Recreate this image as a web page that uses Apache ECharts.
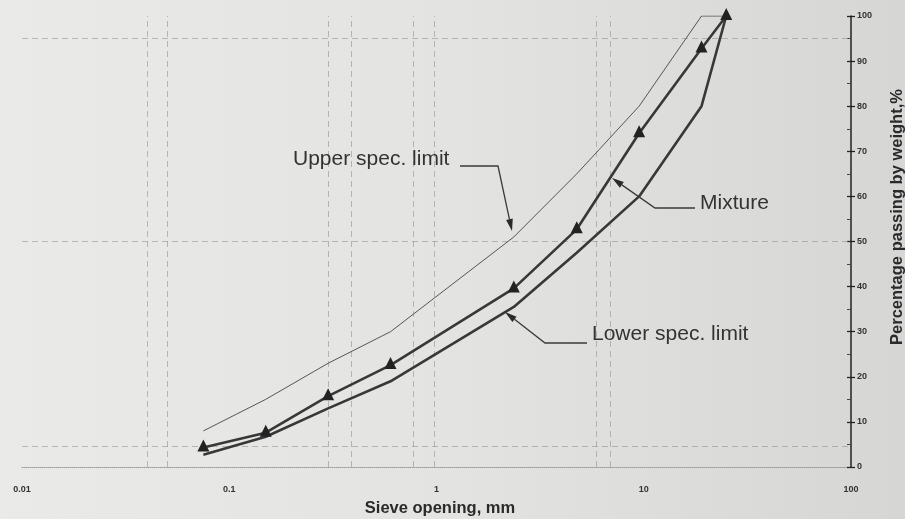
<!DOCTYPE html>
<html><head><meta charset="utf-8">
<script src="https://cdn.jsdelivr.net/npm/echarts@6/dist/echarts.min.js"></script>
<style>html,body{margin:0;padding:0;background:#e2e2e0;}#c{width:905px;height:519px;}</style>
</head><body><div id="c"></div>
<script>
// ---- data ----
const sieveSizes = [0.075, 0.15, 0.3, 0.6, 2.36, 4.75, 9.5, 19, 25];
const upperLimit = [8, 15, 23, 30, 51, 65, 80, 100, 100];
const mixture    = [4.3, 7.6, 15.7, 22.6, 39.6, 52.7, 74, 92.8, 100];
const lowerLimit = [2.7, 6.7, 13, 19, 35.5, 47.5, 60, 80, 100];
const xTickValues = [0.01, 0.1, 1, 10, 100];
const xTickLabels = ['0.01', '0.1', '1', '10', '100'];
const yTickLabels = ['0','10','20','30','40','50','60','70','80','90','100'];
const paperGridX = [0.0388, 0.0484, 0.296, 0.391, 0.77, 0.972, 5.89, 6.87];
const paperGridY = [95, 50, 4.5];

const zip = (xs, ys) => xs.map((x, i) => [x, ys[i]]);

const chart = echarts.init(document.getElementById('c'), null, {renderer: 'canvas'});

function arrowGroup(pts) {
  const n = pts.length;
  const [x1, y1] = pts[n - 2], [x2, y2] = pts[n - 1];
  const dx = x2 - x1, dy = y2 - y1, L = Math.hypot(dx, dy);
  const ux = dx / L, uy = dy / L, hl = 12, hw = 3.4;
  const bx = x2 - ux * hl, by = y2 - uy * hl;
  return [
    {type: 'polyline', shape: {points: pts.slice(0, n - 1).concat([[bx, by]])},
     style: {stroke: '#3a3a3a', lineWidth: 1.3, fill: null}, z: 20},
    {type: 'polygon', shape: {points: [[x2, y2], [bx - uy * hw, by + ux * hw], [bx + uy * hw, by - ux * hw]]},
     style: {fill: '#2a2a2a'}, z: 20}
  ];
}

const annFont = '21px "Liberation Sans", Arial, sans-serif';
const titleFont = 'bold 16.5px "Liberation Sans", Arial, sans-serif';

const option = {
  backgroundColor: new echarts.graphic.LinearGradient(0, 0, 1, 0, [
    {offset: 0, color: '#eaeae8'},
    {offset: 0.5, color: '#e3e3e1'},
    {offset: 1, color: '#d6d6d4'}
  ]),
  animation: false,
  grid: {left: 22, right: 54, top: 16, bottom: 52},
  xAxis: {
    type: 'log', logBase: 10, min: 0.01, max: 100,
    axisLine: {show: true, lineStyle: {color: '#9a9a9a', type: 'dotted', width: 1}},
    axisTick: {show: false},
    splitLine: {show: false},
    axisLabel: {
      margin: 18, color: '#333', fontSize: 9, fontWeight: 'bold',
      fontFamily: '"Liberation Sans", Arial, sans-serif',
      formatter: v => {
        const i = xTickValues.findIndex(t => Math.abs(Math.log10(t) - Math.log10(v)) < 1e-6);
        return i >= 0 ? xTickLabels[i] : '';
      }
    }
  },
  yAxis: [{
    type: 'value', position: 'right', min: 0, max: 100, interval: 10,
    axisLine: {show: true, lineStyle: {color: '#222', width: 1.5}},
    axisTick: {show: true, inside: false, length: 4, lineStyle: {color: '#222', width: 1.3}},
    splitLine: {show: false},
    axisLabel: {
      margin: 6, color: '#333', fontSize: 9, fontWeight: 'bold',
      fontFamily: '"Liberation Sans", Arial, sans-serif',
      formatter: v => yTickLabels[Math.round(v / 10)]
    }
  }, {
    type: 'value', position: 'right', min: 0, max: 100, interval: 10,
    axisLine: {show: false},
    axisTick: {show: true, inside: true, length: 4, lineStyle: {color: '#222', width: 1.3}},
    minorTick: {show: true, splitNumber: 2, length: 4, lineStyle: {color: '#444', width: 1}},
    axisLabel: {show: false},
    splitLine: {show: false}
  }],
  series: [
    {
      name: 'Upper spec. limit', type: 'line', data: zip(sieveSizes, upperLimit),
      symbol: 'none', lineStyle: {color: '#555', width: 1}, z: 5,
      markLine: {
        silent: true, symbol: 'none', label: {show: false},
        lineStyle: {color: '#8c8c8c', type: [6, 4], width: 1, opacity: 0.55},
        data: paperGridX.map(v => ({xAxis: v})).concat(paperGridY.map(v => ({yAxis: v})))
      }
    },
    {
      name: 'Lower spec. limit', type: 'line', data: zip(sieveSizes, lowerLimit),
      symbol: 'none', lineStyle: {color: '#383838', width: 2.6}, z: 6
    },
    {
      name: 'Mixture', type: 'line', data: zip(sieveSizes, mixture),
      symbol: 'triangle', symbolSize: [12, 12], symbolOffset: [0, -2],
      itemStyle: {color: '#222'},
      lineStyle: {color: '#383838', width: 2.6}, z: 7
    }
  ],
  graphic: [
    {type: 'text', x: 293, y: 159, style: {text: 'Upper spec. limit', font: annFont, fill: '#333', verticalAlign: 'middle'}, z: 20},
    {type: 'text', x: 700, y: 203, style: {text: 'Mixture', font: annFont, fill: '#333', verticalAlign: 'middle'}, z: 20},
    {type: 'text', x: 592, y: 334, style: {text: 'Lower spec. limit', font: annFont, fill: '#333', verticalAlign: 'middle'}, z: 20},
    ...arrowGroup([[460, 166], [498, 166], [512, 231]]),
    ...arrowGroup([[695, 208], [655, 208], [612, 178]]),
    ...arrowGroup([[587, 343], [545, 343], [505, 312]]),
    {type: 'text', x: 440, y: 508, style: {text: 'Sieve opening, mm', font: titleFont, fill: '#2a2a2a', align: 'center', verticalAlign: 'middle'}, z: 20},
    {type: 'text', x: 897, y: 217, rotation: Math.PI / 2, style: {text: 'Percentage passing by weight,%', font: titleFont, fill: '#2a2a2a', align: 'center', verticalAlign: 'middle'}, z: 20}
  ]
};
chart.setOption(option);
</script>
</body></html>
